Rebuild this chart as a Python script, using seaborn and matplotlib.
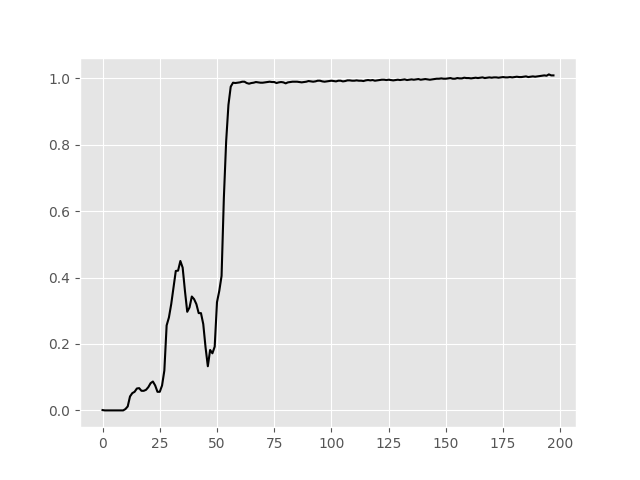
import matplotlib
matplotlib.use("Agg")
import matplotlib.pyplot as plt
import seaborn as sns
import pandas as pd

rise = [0.001, 0.0, 0.0, 0.0, 0.0, 0.0, 0.0, 0.0, 0.0, 0.0,
        0.004, 0.012, 0.042, 0.052, 0.056, 0.066, 0.067, 0.059, 0.059, 0.062,
        0.070, 0.082, 0.087, 0.075, 0.056, 0.056, 0.075, 0.120, 0.256, 0.280,
        0.320, 0.370, 0.420, 0.421, 0.450, 0.430, 0.360, 0.297, 0.310, 0.343,
        0.335, 0.320, 0.293, 0.293, 0.260, 0.190, 0.133, 0.182, 0.172, 0.192,
        0.326, 0.360, 0.405, 0.640, 0.810, 0.920, 0.975, 0.987]

plateau = [0.986, 0.987, 0.988, 0.990, 0.990, 0.986, 0.984, 0.986, 0.987, 0.989,
           0.988, 0.987, 0.987, 0.988, 0.989, 0.990, 0.989, 0.989, 0.986, 0.988,
           0.989, 0.988, 0.985, 0.988, 0.989, 0.990, 0.990, 0.990, 0.989, 0.988,
           0.989, 0.990, 0.992, 0.991, 0.990, 0.991, 0.993, 0.993, 0.991, 0.990,
           0.991, 0.992, 0.993, 0.992, 0.991, 0.993, 0.993, 0.991, 0.992, 0.994,
           0.994, 0.993, 0.993, 0.994, 0.993, 0.993, 0.992, 0.994, 0.995, 0.994,
           0.995, 0.993, 0.994, 0.995, 0.996, 0.996, 0.995, 0.996, 0.995, 0.994,
           0.995, 0.996, 0.995, 0.996, 0.997, 0.995, 0.996, 0.997, 0.996, 0.997,
           0.998, 0.996, 0.997, 0.998, 0.997, 0.996, 0.997, 0.998, 0.999, 0.999,
           1.000, 0.999, 0.999, 1.000, 1.001, 0.999, 0.999, 1.001, 1.000, 1.000,
           1.002, 1.001, 1.001, 1.000, 1.001, 1.002, 1.001, 1.002, 1.003, 1.001,
           1.002, 1.003, 1.002, 1.003, 1.003, 1.002, 1.003, 1.004, 1.003, 1.003,
           1.004, 1.003, 1.004, 1.005, 1.004, 1.004, 1.005, 1.006, 1.004, 1.005,
           1.006, 1.005, 1.006, 1.007, 1.008, 1.009, 1.008, 1.012, 1.009, 1.009]

values = rise + plateau
steps = list(range(len(values)))

plt.style.use("ggplot")
fig, ax = plt.subplots(figsize=(6.4, 4.8), dpi=100)
df = pd.DataFrame({"step": steps, "value": values})
sns.lineplot(data=df, x="step", y="value", color="black", linewidth=1.5, ax=ax)
ax.set_xlabel("")
ax.set_ylabel("")
fig.savefig("out.png", dpi=100)
